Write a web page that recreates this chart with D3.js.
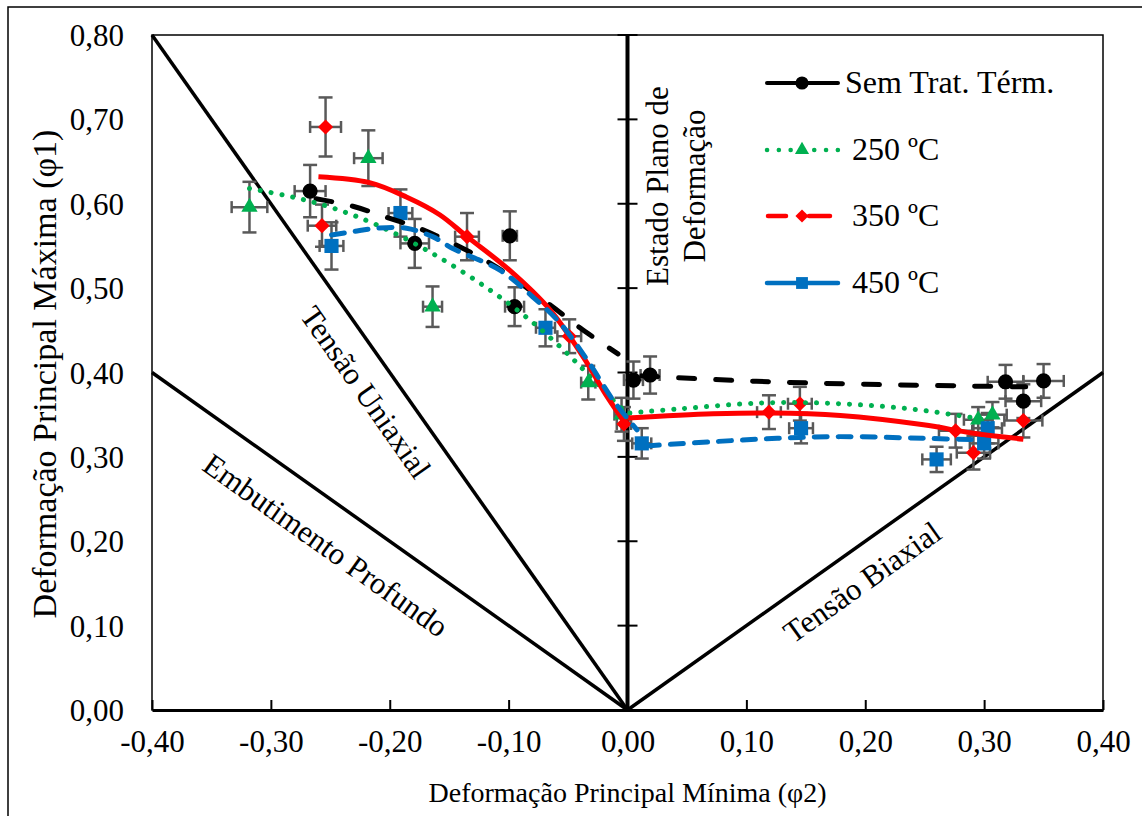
<!DOCTYPE html>
<html>
<head>
<meta charset="utf-8">
<script src="https://cdn.jsdelivr.net/npm/d3@7"></script>
<style>
  body { margin: 0; background: #fff; }
  text { font-family: "Liberation Serif", "Times New Roman", serif; fill: #000; }
</style>
</head>
<body>
<svg id="chart" width="1142" height="816"></svg>
<script>
// Valeurs : [phi2, phi1, erreur x, erreur y]
const semTrat = [
  [-0.267, 0.615, 0.013, 0.031], [-0.179, 0.553, 0.012, 0.029], [-0.099, 0.562, 0.006, 0.029],
  [-0.095, 0.478, 0.008, 0.023], [0.005, 0.391, 0.008, 0.022], [0.019, 0.397, 0.008, 0.022],
  [0.318, 0.389, 0.015, 0.020], [0.350, 0.390, 0.017, 0.020], [0.333, 0.366, 0.015, 0.020]
];
const t250 = [
  [-0.318, 0.596, 0.015, 0.030], [-0.218, 0.654, 0.012, 0.033], [-0.164, 0.478, 0.008, 0.024],
  [-0.033, 0.388, 0.006, 0.020], [-0.005, 0.350, 0.006, 0.020], [0.295, 0.344, 0.012, 0.015],
  [0.307, 0.350, 0.012, 0.015]
];
const t350 = [
  [-0.254, 0.691, 0.013, 0.035], [-0.257, 0.574, 0.012, 0.025], [-0.135, 0.561, 0.010, 0.028],
  [-0.049, 0.443, 0.010, 0.020], [-0.003, 0.339, 0.006, 0.020], [0.119, 0.353, 0.010, 0.020],
  [0.145, 0.363, 0.010, 0.020], [0.276, 0.331, 0.014, 0.020], [0.291, 0.305, 0.014, 0.020],
  [0.333, 0.343, 0.016, 0.020]
];
const t450 = [
  [-0.249, 0.550, 0.010, 0.028], [-0.191, 0.589, 0.010, 0.028], [-0.069, 0.453, 0.008, 0.022],
  [0.012, 0.316, 0.008, 0.018], [0.146, 0.334, 0.010, 0.018], [0.260, 0.297, 0.012, 0.015],
  [0.300, 0.316, 0.012, 0.018], [0.303, 0.334, 0.012, 0.018]
];

// Courbes de tendance (deux branches par serie)
const semTratTrendLeft = [[-0.262, 0.606], [-0.231, 0.597], [-0.203, 0.584], [-0.172, 0.569],
  [-0.116, 0.530], [-0.065, 0.480], [-0.040, 0.453], [-0.008, 0.422]];
const semTratTrendRight = [[0.012, 0.396], [0.10, 0.390], [0.20, 0.386], [0.335, 0.383]];
const t250TrendLeft = [[-0.318, 0.618], [-0.282, 0.608], [-0.248, 0.595], [-0.211, 0.575],
  [-0.164, 0.541], [-0.118, 0.500], [-0.082, 0.462], [-0.054, 0.427], [-0.034, 0.399],
  [-0.012, 0.367], [-0.003, 0.355]];
const t250TrendRight = [[0.002, 0.352], [0.044, 0.357], [0.114, 0.364], [0.179, 0.363],
  [0.243, 0.356], [0.305, 0.343]];
const t350TrendLeft = [[-0.260, 0.632], [-0.217, 0.625], [-0.186, 0.608], [-0.158, 0.587],
  [-0.135, 0.561], [-0.099, 0.521], [-0.065, 0.474], [-0.037, 0.418], [-0.017, 0.371],
  [-0.004, 0.344]];
const t350TrendRight = [[0.0, 0.346], [0.072, 0.351], [0.12, 0.352], [0.179, 0.349],
  [0.249, 0.338], [0.291, 0.328], [0.333, 0.321]];
const t450TrendLeft = [[-0.249, 0.563], [-0.231, 0.567], [-0.211, 0.571], [-0.186, 0.571],
  [-0.164, 0.561], [-0.147, 0.547], [-0.107, 0.521], [-0.080, 0.490], [-0.057, 0.459],
  [-0.034, 0.415], [-0.012, 0.367], [0.008, 0.332]];
const t450TrendRight = [[0.016, 0.313], [0.072, 0.318], [0.126, 0.322], [0.179, 0.324],
  [0.249, 0.322], [0.300, 0.320]];

// Lignes limites du diagramme
const uniaxialLine = [[-0.4, 0.8], [0, 0]];
const deepDrawLine = [[-0.4, 0.4], [0, 0]];
const biaxialLine = [[0, 0], [0.4, 0.4]];
const planeStrainLine = [[0, 0], [0, 0.8]];

const xTicks = [-0.4, -0.3, -0.2, -0.1, 0, 0.1, 0.2, 0.3, 0.4];
const yTicks = [0, 0.1, 0.2, 0.3, 0.4, 0.5, 0.6, 0.7, 0.8];
const seriesNames = ["Sem Trat. Térm.", "250 ºC", "350 ºC", "450 ºC"];

const svg = d3.select("#chart");
const serif = "Liberation Serif";
const plotLeft = 152, plotRight = 1103, plotTop = 35, plotBottom = 710;

const x = d3.scaleLinear().domain([-0.4, 0.4]).range([plotLeft, plotRight]);
const y = d3.scaleLinear().domain([0, 0.8]).range([plotBottom, plotTop]);

const fmt = d3.formatLocale({ decimal: ",", thousands: ".", grouping: [3], currency: ["", ""], minus: "-" }).format(".2f");

// Cadre exterieur
svg.append("rect")
  .attr("x", 8).attr("y", 7)
  .attr("width", 1200).attr("height", 900)
  .attr("fill", "none").attr("stroke", "#000").attr("stroke-width", 1.5);

// Cadre de la zone de trace
svg.append("rect")
  .attr("x", plotLeft).attr("y", plotTop)
  .attr("width", plotRight - plotLeft).attr("height", plotBottom - plotTop)
  .attr("fill", "none").attr("stroke", "#000").attr("stroke-width", 1.5);

// Axe x (ticks vers l'interieur)
const xAxis = svg.append("g")
  .attr("transform", "translate(0," + plotBottom + ")")
  .call(d3.axisBottom(x).tickValues(xTicks).tickFormat(fmt).tickSizeInner(-10).tickSizeOuter(0).tickPadding(20));
xAxis.attr("font-family", serif).attr("font-size", 31);
xAxis.select(".domain").attr("stroke-width", 3);
xAxis.selectAll(".tick line").attr("stroke-width", 2);
xAxis.selectAll("text").attr("dy", "0.71em");

// Etiquettes de l'axe y (a gauche)
const yAxis = svg.append("g")
  .attr("transform", "translate(" + plotLeft + ",0)")
  .call(d3.axisLeft(y).tickValues(yTicks).tickFormat(fmt).tickSize(0).tickPadding(28));
yAxis.attr("font-family", serif).attr("font-size", 31);
yAxis.select(".domain").remove();
yAxis.selectAll("text").attr("dy", "0.34em");

const line = d3.line()
  .x(function(d) { return x(d[0]); })
  .y(function(d) { return y(d[1]); });

// Lignes limites
[uniaxialLine, deepDrawLine, biaxialLine].forEach(function(pts) {
  svg.append("path").attr("d", line(pts))
    .attr("fill", "none").attr("stroke", "#000").attr("stroke-width", 3.5);
});
svg.append("path").attr("d", line(planeStrainLine))
  .attr("fill", "none").attr("stroke", "#000").attr("stroke-width", 4);

// Ticks croises sur l'axe central
svg.append("g").selectAll("line")
  .data(yTicks.filter(function(v) { return v > 0; }))
  .enter().append("line")
  .attr("x1", x(0) - 10).attr("x2", x(0) + 10)
  .attr("y1", function(d) { return y(d); })
  .attr("y2", function(d) { return y(d); })
  .attr("stroke", "#000").attr("stroke-width", 2);

// Textes des zones
function zoneLabel(txt, cx, cy, angle) {
  svg.append("text")
    .attr("transform", "translate(" + cx + "," + cy + ") rotate(" + angle + ")")
    .attr("text-anchor", "middle")
    .attr("dy", "0.35em")
    .attr("font-family", serif)
    .attr("font-size", 31)
    .text(txt);
}
zoneLabel("Tensão Uniaxial", 366, 392, 54.9);
zoneLabel("Embutimento Profundo", 326, 545, 35.4);
zoneLabel("Tensão Biaxial", 862, 582, -35.4);
zoneLabel("Estado Plano de", 657, 186, -90);
zoneLabel("Deformação", 694, 186, -90);

// Titres des axes
svg.append("text")
  .attr("x", x(0)).attr("y", 802)
  .attr("text-anchor", "middle").attr("font-family", serif).attr("font-size", 28)
  .text("Deformação Principal Mínima (φ2)");
svg.append("text")
  .attr("transform", "translate(56,374) rotate(-90)")
  .attr("text-anchor", "middle").attr("font-family", serif).attr("font-size", 34)
  .text("Deformação Principal Máxima (φ1)");

// Barres d'erreur
const allSeries = [semTrat, t250, t350, t450];
const errG = svg.append("g").attr("stroke", "#595959").attr("stroke-width", 2.5);
allSeries.forEach(function(series) {
  series.forEach(function(d) {
    const cx = x(d[0]), cy = y(d[1]);
    const x0 = x(d[0] - d[2]), x1 = x(d[0] + d[2]);
    const y0 = y(d[1] - d[3]), y1 = y(d[1] + d[3]);
    errG.append("line").attr("x1", cx).attr("x2", cx).attr("y1", y0).attr("y2", y1);
    errG.append("line").attr("x1", cx - 7).attr("x2", cx + 7).attr("y1", y0).attr("y2", y0);
    errG.append("line").attr("x1", cx - 7).attr("x2", cx + 7).attr("y1", y1).attr("y2", y1);
    errG.append("line").attr("x1", x0).attr("x2", x1).attr("y1", cy).attr("y2", cy);
    errG.append("line").attr("x1", x0).attr("x2", x0).attr("y1", cy - 6).attr("y2", cy + 6);
    errG.append("line").attr("x1", x1).attr("x2", x1).attr("y1", cy - 6).attr("y2", cy + 6);
  });
});

// Styles des series
const styles = [
  { color: "#000000", symbol: d3.symbolCircle, size: 180, rotate: 0, dash: "16 21", width: 5, cap: "round" },
  { color: "#00B050", symbol: d3.symbolTriangle, size: 115, rotate: 0, dash: "0.1 10.9", width: 5, cap: "round" },
  { color: "#FF0000", symbol: d3.symbolSquare, size: 115, rotate: 45, dash: null, width: 5, cap: "butt" },
  { color: "#0070C0", symbol: d3.symbolSquare, size: 200, rotate: 0, dash: "13 11", width: 5, cap: "round" }
];

// Marqueurs
allSeries.forEach(function(series, i) {
  const s = styles[i];
  svg.append("g").selectAll("path")
    .data(series)
    .enter().append("path")
    .attr("d", d3.symbol().type(s.symbol).size(s.size))
    .attr("transform", function(d) {
      return "translate(" + x(d[0]) + "," + y(d[1]) + ") rotate(" + s.rotate + ")";
    })
    .attr("fill", s.color);
});

// Courbes de tendance
const trendLine = d3.line()
  .x(function(d) { return x(d[0]); })
  .y(function(d) { return y(d[1]); })
  .curve(d3.curveCatmullRom.alpha(0.5));
const trends = [
  [semTratTrendLeft, semTratTrendRight],
  [t250TrendLeft, t250TrendRight],
  [t350TrendLeft, t350TrendRight],
  [t450TrendLeft, t450TrendRight]
];
trends.forEach(function(pair, i) {
  const s = styles[i];
  pair.forEach(function(pts) {
    svg.append("path").attr("d", trendLine(pts))
      .attr("fill", "none")
      .attr("stroke", s.color)
      .attr("stroke-width", s.width)
      .attr("stroke-linecap", s.cap)
      .attr("stroke-dasharray", s.dash);
  });
});

// Legende
const legendY = [83, 150, 216, 283];
const legendTextX = [845, 852, 852, 852];
const legend = svg.append("g");
seriesNames.forEach(function(name, i) {
  const s = styles[i];
  const ly = legendY[i];
  if (i === 0) {
    legend.append("line").attr("x1", 767).attr("x2", 838).attr("y1", ly).attr("y2", ly)
      .attr("stroke", s.color).attr("stroke-width", 4).attr("stroke-linecap", "round");
  } else if (i === 1) {
    legend.append("line").attr("x1", 767).attr("x2", 838).attr("y1", ly).attr("y2", ly)
      .attr("stroke", s.color).attr("stroke-width", 4.5).attr("stroke-linecap", "round")
      .attr("stroke-dasharray", "0.1 11.7");
  } else if (i === 2) {
    legend.append("line").attr("x1", 768).attr("x2", 786).attr("y1", ly).attr("y2", ly)
      .attr("stroke", s.color).attr("stroke-width", 4.5).attr("stroke-linecap", "round");
    legend.append("line").attr("x1", 809).attr("x2", 830).attr("y1", ly).attr("y2", ly)
      .attr("stroke", s.color).attr("stroke-width", 4.5).attr("stroke-linecap", "round");
  } else {
    legend.append("line").attr("x1", 767).attr("x2", 838).attr("y1", ly).attr("y2", ly)
      .attr("stroke", s.color).attr("stroke-width", 4.5).attr("stroke-linecap", "round");
  }
  legend.append("path")
    .attr("d", d3.symbol().type(s.symbol).size(i === 3 ? 140 : s.size * 0.75))
    .attr("transform", "translate(802," + ly + ") rotate(" + s.rotate + ")")
    .attr("fill", s.color);
  legend.append("text")
    .attr("x", legendTextX[i]).attr("y", ly + 10)
    .attr("font-family", serif)
    .attr("font-size", 32)
    .text(name);
});
</script>
</body>
</html>
